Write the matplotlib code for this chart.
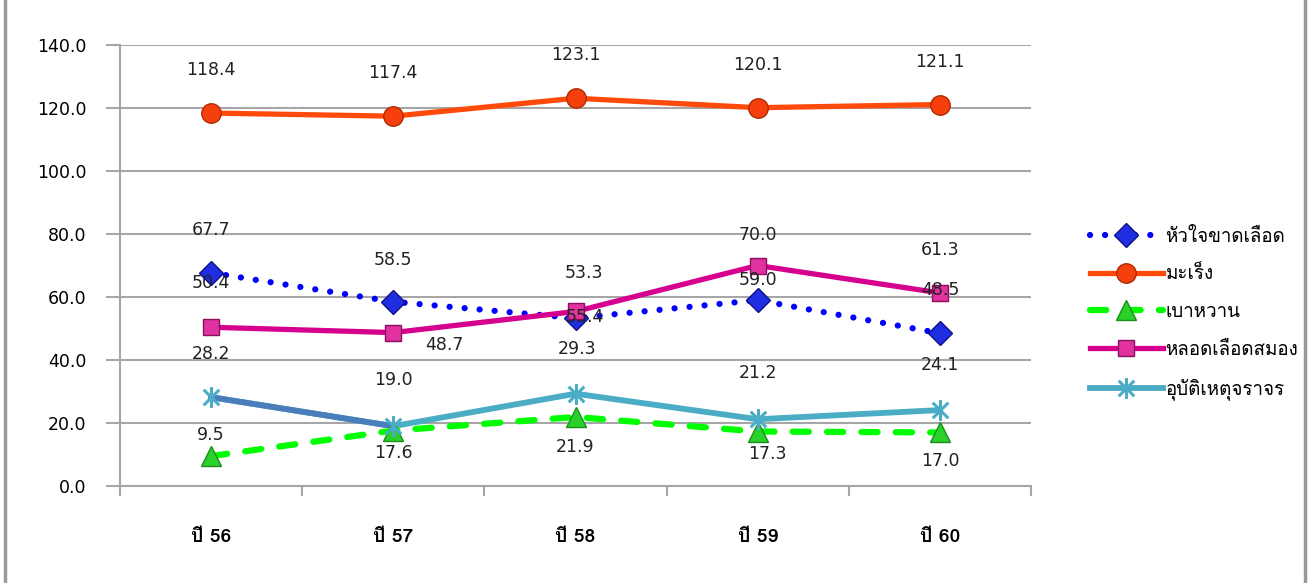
import numpy as np
import matplotlib
matplotlib.use("Agg")
import matplotlib.pyplot as plt
from matplotlib import font_manager
from matplotlib.ft2font import FT2Font
from matplotlib.path import Path
from matplotlib.lines import Line2D

# Death rates per 100,000 population, by year
years = ["ปี 56", "ปี 57", "ปี 58", "ปี 59", "ปี 60"]
heart = [67.7, 58.5, 53.3, 59.0, 48.5]
cancer = [118.4, 117.4, 123.1, 120.1, 121.1]
diabetes = [9.5, 17.6, 21.9, 17.3, 17.0]
stroke = [50.4, 48.7, 55.4, 70.0, 61.3]
accident = [28.2, 19.0, 29.3, 21.2, 24.1]

series_names = ["หัวใจขาดเลือด", "มะเร็ง", "เบาหวาน", "หลอดเลือดสมอง", "อุบัติเหตุจราจร"]


def thai_family():
    # pick the first installed font that has Thai glyphs
    for f in font_manager.fontManager.ttflist:
        try:
            if 0x0E2B in FT2Font(f.fname).get_charmap():
                return f.name
        except Exception:
            pass
    return "DejaVu Sans"


thai = [thai_family(), "DejaVu Sans"]

# asterisk marker: vertical stroke plus two diagonals
star = Path([(0, -1), (0, 1), (-0.75, -0.75), (0.75, 0.75), (-0.75, 0.75), (0.75, -0.75)],
            [Path.MOVETO, Path.LINETO, Path.MOVETO, Path.LINETO, Path.MOVETO, Path.LINETO])

x = np.arange(len(years))

fig = plt.figure(figsize=(13.12, 5.83), dpi=100)
ax = fig.add_axes([120 / 1312, 97 / 583, 911 / 1312, 441 / 583])

grid_col = "#a6a6a6"
ax.set_ylim(0, 140)
ax.set_xlim(-0.5, 4.5)
ax.set_yticks(np.arange(0, 141, 20))
ax.set_yticklabels([f"{v:.1f}" for v in np.arange(0, 141, 20)], fontsize=12.5)
ax.yaxis.grid(True, color=grid_col, linewidth=1.5)
ax.set_axisbelow(True)
ax.set_xticks(x)
ax.set_xticklabels(years, family=thai, fontsize=14, fontweight="bold")
ax.set_xticks(np.arange(-0.5, 4.6, 1), minor=True)
ax.tick_params(axis="x", which="major", length=0, pad=30)
ax.tick_params(axis="x", which="minor", length=7, width=1.5, color=grid_col, direction="out")
ax.tick_params(axis="y", length=10, width=1.5, color=grid_col, pad=14)
for s in ["top", "right"]:
    ax.spines[s].set_visible(False)
for s in ["left", "bottom"]:
    ax.spines[s].set_color(grid_col)
    ax.spines[s].set_linewidth(1.5)

# line styles shared by the plot and the legend
styles = [
    dict(color="#0000ff", linewidth=4.5, linestyle=(0, (0.01, 2.4)), dash_capstyle="round",
         marker="D", markersize=12, markerfacecolor="#1f2ee0", markeredgecolor="#10108a",
         markeredgewidth=1),
    dict(color="#ff4a0a", linewidth=3.8, marker="o", markersize=14,
         markerfacecolor="#f5400d", markeredgecolor="#b02a00", markeredgewidth=1),
    dict(color="#00ff00", linewidth=4.5, linestyle=(0, (2.6, 2.9)), dash_capstyle="round",
         marker="^", markersize=14, markerfacecolor="#2bd12b", markeredgecolor="#1a8f1a",
         markeredgewidth=1),
    dict(color="#d6008f", linewidth=3.8, marker="s", markersize=12,
         markerfacecolor="#e0339f", markeredgecolor="#8c0f5e", markeredgewidth=1),
]

ax.plot(x, heart, zorder=4, **styles[0])
ax.plot(x, cancer, zorder=4, **styles[1])
ax.plot(x, diabetes, zorder=4, **styles[2])
ax.plot(x, stroke, zorder=4, **styles[3])
ax.plot(x, accident, color="#4bacc6", linewidth=4.2, zorder=3)
ax.plot(x[:2], accident[:2], color="#4a7ebb", linewidth=4.2, zorder=3)
ax.plot(x, accident, linestyle="none", marker=star, markersize=15,
        markeredgecolor="#4bacc6", markeredgewidth=2.2, zorder=5)

# value labels, offsets in pixels
label_offsets = {
    "heart": [(0, 43), (0, 42), (8, 45), (0, 20), (0, 43)],
    "cancer": [(0, 43), (0, 43), (0, 43), (0, 43), (0, 43)],
    "diabetes": [(0, 21), (0, -22), (0, -30), (10, -22), (0, -29)],
    "stroke": [(0, 44), (51, -12), (9, -6), (0, 30), (0, 43)],
    "accident": [(0, 43), (0, 46), (2, 45), (0, 46), (0, 45)],
}
for key, vals in [("heart", heart), ("cancer", cancer), ("diabetes", diabetes),
                  ("stroke", stroke), ("accident", accident)]:
    for xi, v, (dx, dy) in zip(x, vals, label_offsets[key]):
        ax.annotate(f"{v:.1f}", (xi, v), xytext=(dx, dy), textcoords="offset pixels",
                    ha="center", va="center", fontsize=12.5, color="#222222", zorder=6)

# legend
handles = [Line2D([], [], **st) for st in styles]
handles.append(Line2D([], [], color="#4bacc6", linewidth=4.2, marker=star, markersize=15,
                      markeredgecolor="#4bacc6", markeredgewidth=2.2))
fig.legend(handles, series_names, loc="center left",
           bbox_to_anchor=(1082 / 1312, (583 - 314) / 583),
           frameon=False, handlelength=3.9, handletextpad=0.15, labelspacing=1.05,
           numpoints=1, borderaxespad=0, prop={"family": thai, "size": 13.5})

# outer frame sides
for xf in (5 / 1312, 1305 / 1312):
    fig.add_artist(Line2D([xf, xf], [0, 1], color="#999999", linewidth=2.5,
                          transform=fig.transFigure))

fig.savefig("out.png", dpi=100)
